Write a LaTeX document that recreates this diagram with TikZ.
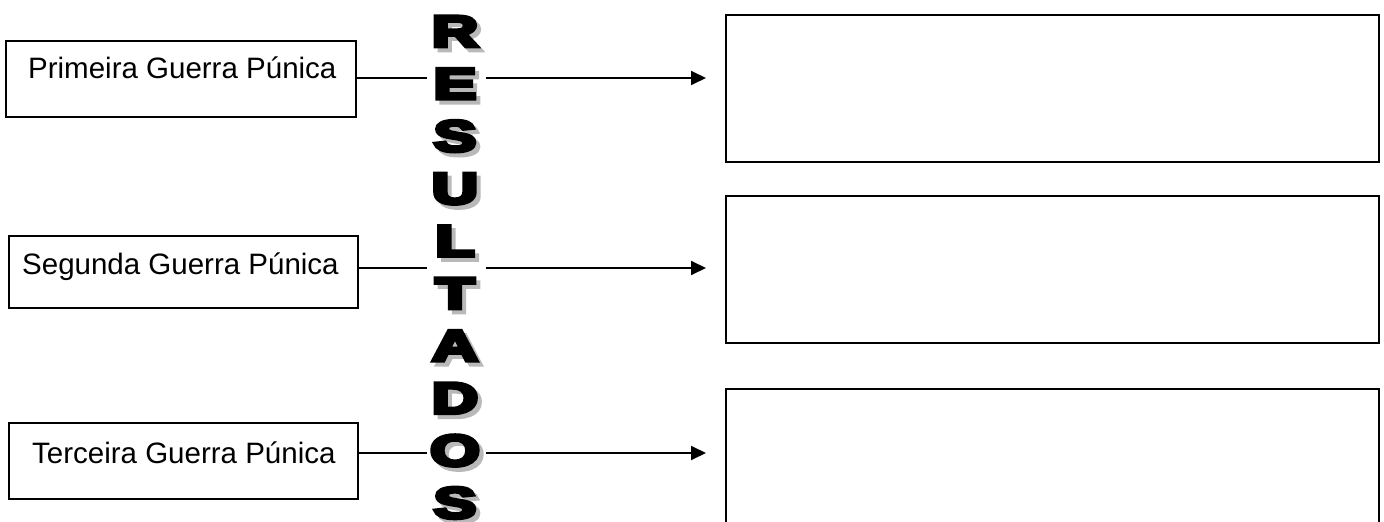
\documentclass[tikz,border=0pt]{standalone}
\usepackage{fontspec}
\setmainfont{Liberation Sans}
\newfontfamily\heavyfont{Liberation Sans}[FakeBold=8]
\usetikzlibrary{arrows.meta}
\definecolor{shadowgray}{RGB}{185,185,185}
\tikzset{
  box/.style={draw=black, line width=1.6pt, rectangle, inner sep=0pt, anchor=north west},
  lbl/.style={inner sep=0pt, anchor=base west, font=\fontsize{29.5}{34}\selectfont},
  letterbase/.style={inner sep=0pt, anchor=base, font=\heavyfont\bfseries\fontsize{44}{50}\selectfont},
  lettertxt/.style={letterbase, text=black},
  lettershadow/.style={letterbase, text=shadowgray},
  link/.style={draw=black, line width=1.3pt},
  arr/.style={draw=black, line width=1.8pt, -{Triangle[length=15pt,width=14pt]}, shorten >=19pt}
}
\begin{document}
\begin{tikzpicture}[x=1pt,y=-1pt]
\useasboundingbox (0,0) rectangle (1384,522);
\clip (0,0) rectangle (1384,522);
% left boxes
\node[box, minimum width=350, minimum height=76] (p1) at (5,40) {};
\node[box, minimum width=349, minimum height=72] (p2) at (8,235) {};
\node[box, minimum width=349, minimum height=76] (p3) at (8,422) {};
\node[lbl] (t1) at (28,78) {Primeira Guerra Púnica};
\node[lbl] (t2) at (22,274) {Segunda Guerra Púnica};
\node[lbl] (t3) at (32,463) {Terceira Guerra Púnica};
% right boxes
\node[box, minimum width=653, minimum height=147] (r1) at (725,14) {};
\node[box, minimum width=653, minimum height=147] (r2) at (725,195) {};
\node[box, minimum width=653, minimum height=147] (r3) at (725,388) {};
% vertical word
\foreach \ch [count=\i from 0] in {R,E,S,U,L,T,A,D,O,S} {
  \node[lettershadow] (s\i) at (459,50.5+52.4*\i) {\scalebox{1.45}[1]{\ch}};
  \node[lettertxt] (w\i) at (455,46.5+52.4*\i) {\scalebox{1.45}[1]{\ch}};
}
% connector points
\coordinate (g1) at (427,78);
\coordinate (g2) at (427,268);
\coordinate (g3) at (427,453);
\coordinate (h1) at (486,78);
\coordinate (h2) at (486,268);
\coordinate (h3) at (486,453);
\draw[link] (p1.east |- g1) -- (g1);
\draw[link] (p2.east |- g2) -- (g2);
\draw[link] (p3.east |- g3) -- (g3);
\draw[arr] (h1) -- (r1.west |- h1);
\draw[arr] (h2) -- (r2.west |- h2);
\draw[arr] (h3) -- (r3.west |- h3);
\end{tikzpicture}
\end{document}
